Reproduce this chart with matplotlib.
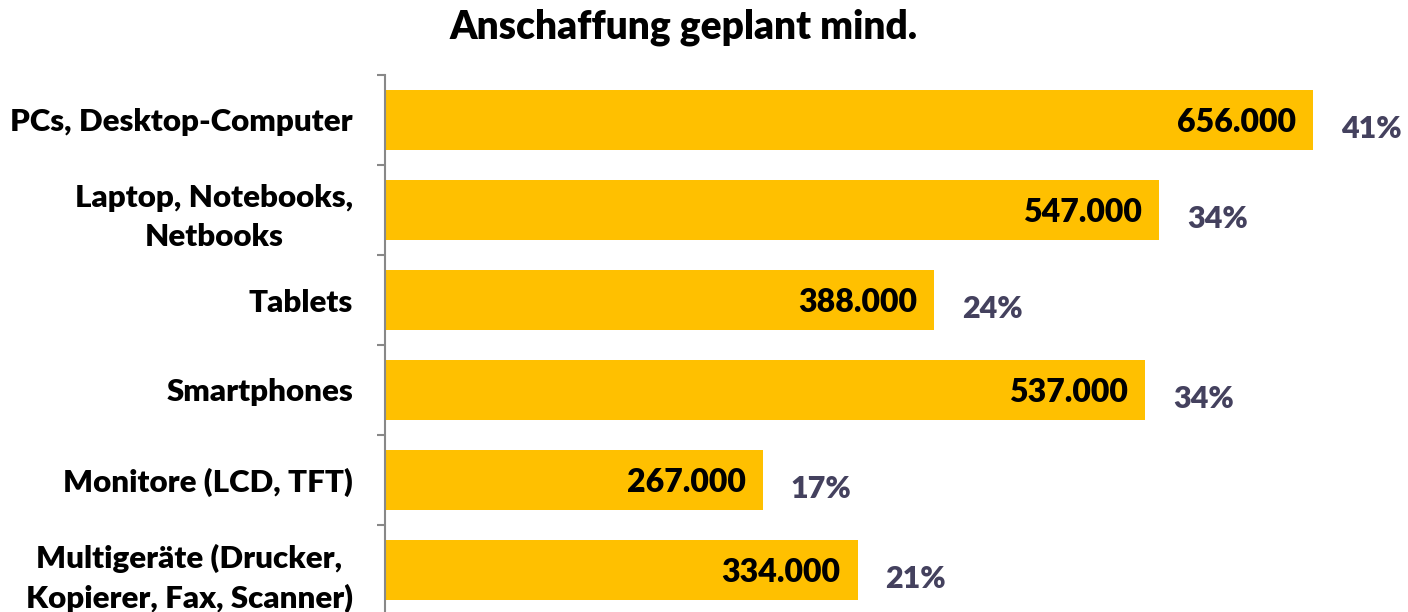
import matplotlib
matplotlib.use("Agg")
import matplotlib.pyplot as plt

categories = [
    "PCs, Desktop-Computer",
    "Laptop, Notebooks,\nNetbooks",
    "Tablets",
    "Smartphones",
    "Monitore (LCD, TFT)",
    "Multigeräte (Drucker,\nKopierer, Fax, Scanner)",
]
values = [656, 547, 388, 537, 267, 334]
value_labels = ["656.000", "547.000", "388.000", "537.000", "267.000", "334.000"]
shares = ["41%", "34%", "24%", "34%", "17%", "21%"]

plt.rcParams["font.family"] = ["Lato", "DejaVu Sans"]
plt.rcParams["font.weight"] = "heavy"

fig = plt.figure(figsize=(14.08, 6.12), dpi=100)
ax = fig.add_axes([385 / 1408, -3 / 612, 1 - 385 / 1408, (612 - 75 + 3) / 612])

y = list(range(len(categories)))
ax.barh(y, values, height=0.67, color="#FFC000")
ax.set_ylim(len(categories) - 0.5, -0.5)
ax.set_xlim(0, 723)

px = 723 / 1023  # data units per pixel
for i, v in enumerate(values):
    ax.text(v - 17 * px, i + 0.03, value_labels[i], ha="right", va="center",
            fontsize=23, fontweight="heavy", color="black")
    ax.text(v + 28 * px, i + 0.10, shares[i], ha="left", va="center",
            fontsize=22, fontweight="heavy", color="#44415E")

ax.set_yticks(y)
ax.set_yticklabels(categories, fontsize=22.5, fontweight="heavy",
                   multialignment="center", linespacing=1.45)
ax.tick_params(axis="y", which="major", length=0, pad=23)
ax.set_yticks([i - 0.5 for i in range(len(categories) + 1)], minor=True)
ax.tick_params(axis="y", which="minor", length=6, width=1.5, color="#888888", direction="out")
ax.set_xticks([])

for s in ["top", "right", "bottom"]:
    ax.spines[s].set_visible(False)
ax.spines["left"].set_color("#888888")
ax.spines["left"].set_linewidth(1.5)

fig.text(684 / 1408, 1 - 27 / 612, "Anschaffung geplant mind.", ha="center", va="center",
         fontsize=28, fontweight="heavy")

fig.savefig("out.png", dpi=100)
